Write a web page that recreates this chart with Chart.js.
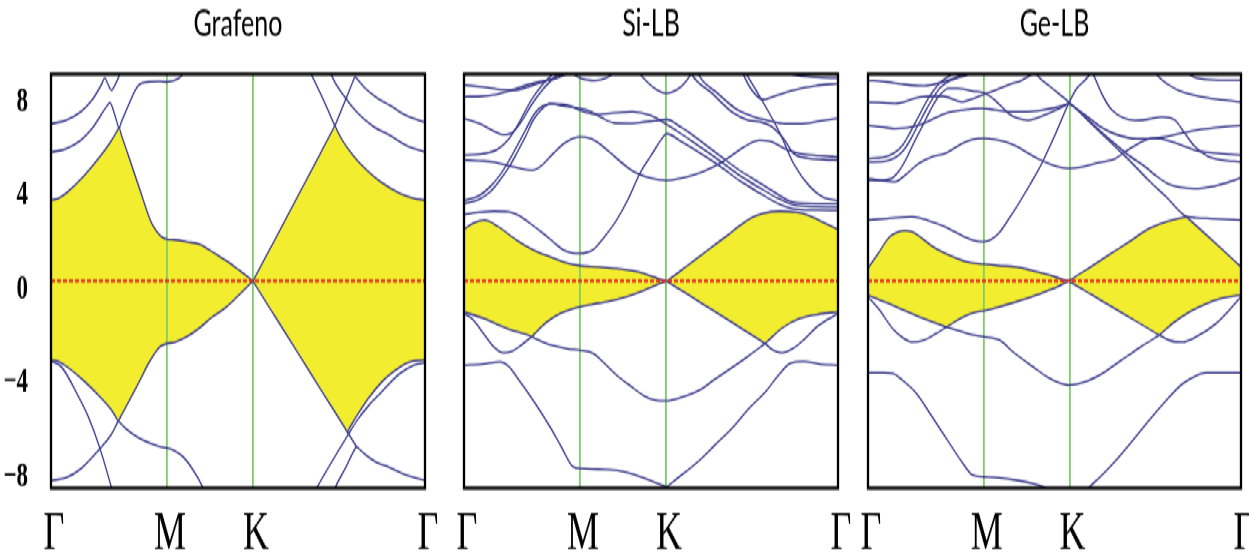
<!DOCTYPE html>
<html>
<head>
<meta charset="utf-8">
<script src="https://cdn.jsdelivr.net/npm/chart.js@4.4.1/dist/chart.umd.min.js"></script>
<style>
  html, body { margin: 0; padding: 0; background: #fff; overflow: hidden; }
  /* the original picture is stretched vertically, so draw flat and stretch */
  #stage { position: absolute; left: 0; top: 0; width: 1249px; height: 372px; transform: scaleY(1.5); transform-origin: 0 0; }
  canvas { position: absolute; top: 0; }
</style>
</head>
<body>
<div id="stage">
  <canvas id="c1" width="449" height="372" style="left:0px"></canvas>
  <canvas id="c2" width="419" height="372" style="left:443px"></canvas>
  <canvas id="c3" width="418" height="372" style="left:847px"></canvas>
</div>
<script>
  // k path: Γ (0) -> M (31) -> K (54) -> Γ (100)
  const kTicks = [0, 31, 54, 100];
  const kLabels = ['Γ', 'M', 'K', 'Γ'];
  const eTicks = [-8, -4, 0, 4, 8];
  const eLabels = ['−8', '−4', '0', '4', '8'];
  const fermiLevel = 0;
  const panelTitles = ['Grafeno', 'Si-LB', 'Ge-LB'];

  /**************Grafeno**************/
  const grafenoTop = [[0,3.13],[2,3.2],[4.2,3.42],[8.6,4.03],[13.1,4.81],[16,5.4],[17.6,5.78],[18.2,5.92],[18.8,5.66],[21,4.72],[23.8,3.52],[26.9,2.24],[28.3,1.92],[29.5,1.72],[31,1.62],[33,1.6],[36.3,1.52],[39.8,1.42],[44,1.05],[47,0.78],[50.5,0.4],[53.5,0.06],[54,0],[54.5,0.14],[60,1.64],[66,3.29],[72,4.93],[75.3,5.84],[75.9,6.0],[76.5,5.82],[78,5.42],[81,4.82],[84.4,4.29],[88,3.85],[93.3,3.39],[97,3.2],[100,3.13]];
  const grafenoBottom = [[0,-3.05],[2,-3.1],[4.2,-3.3],[8.6,-3.83],[13.1,-4.47],[16,-4.95],[17.4,-5.27],[18,-5.4],[18.6,-5.24],[21,-4.6],[23.8,-3.83],[26,-3.2],[28.3,-2.67],[29.5,-2.5],[31,-2.41],[33,-2.36],[36.3,-2.15],[39.8,-1.8],[43,-1.4],[47,-0.99],[50.5,-0.5],[53.5,-0.07],[54,0],[54.5,-0.12],[60,-1.39],[66,-2.77],[72,-4.16],[78.6,-5.68],[79.2,-5.82],[79.8,-5.68],[82,-5.15],[85,-4.5],[88.9,-3.83],[92,-3.45],[96,-3.12],[100,-3.05]];
  const grafenoBands = [
    [[0,6.08],[4,6.22],[8,6.55],[11,7.0],[13.5,7.6],[14.4,7.85],[15.2,7.62],[16.2,7.37],[17,7.55],[18,7.85],[19,8.3]],
    [[0,4.98],[4,5.12],[8,5.45],[11,5.9],[13.5,6.45],[15.2,6.82],[15.8,6.9],[16.4,6.72],[17.6,6.16],[18.2,5.92],[18.8,6.14],[21,6.9],[23.3,7.55],[26,7.7],[29,7.72],[31,7.7],[34,7.82],[36,8.1]],
    [[0,-7.7],[4,-7.6],[8,-7.25],[13.1,-6.47],[16,-5.95],[18,-5.4]],
    [[0,-3.08],[3,-3.35],[6.9,-4.34],[10,-5.25],[13.1,-6.47],[16.2,-8.0],[17,-8.45]],
    [[18,-5.4],[20,-5.7],[23,-6.02],[26.5,-6.27],[29,-6.4],[31,-6.45],[33,-6.55],[35.4,-6.8],[38,-7.3],[40.7,-8.0],[41.5,-8.3]],
    [[75.9,6.0],[78.6,6.95],[80.7,7.7],[81.3,7.9],[81.9,7.8],[84,7.45],[87,7.1],[90.6,6.8],[95,6.4],[100,6.14]],
    [[74.5,8.2],[75,7.95],[78.6,7.11],[82,6.5],[86,6.0],[90.6,5.63],[95,5.25],[100,4.98]],
    [[68.5,8.3],[69.7,7.95],[73,6.95],[75.9,6.0]],
    [[69.5,-8.4],[71,-8.0],[75,-7.0],[79.1,-6.02],[82,-5.35],[85,-4.8],[88,-4.34],[93.3,-3.57],[97,-3.25],[100,-3.15]],
    [[74.5,-8.5],[75.9,-8.0],[78.8,-7.2],[81.2,-6.5],[81.7,-6.4],[82.3,-6.47],[84,-6.7],[87,-7.0],[90.6,-7.2],[95,-7.5],[100,-7.7]],
    [[79.2,-5.82],[81.7,-6.4]]
  ];

  /**************Si-LB**************/
  const siTop = [[0,2.0],[2.5,2.25],[5.6,2.36],[9,2.12],[14.1,1.58],[18,1.25],[23,0.94],[27,0.72],[31,0.6],[36,0.55],[40.8,0.49],[45,0.4],[48,0.3],[51,0.15],[53.7,0.02],[54.2,0],[54.7,0.05],[60,0.63],[65,1.18],[70,1.72],[74,2.17],[77,2.46],[80,2.62],[84.5,2.7],[89,2.66],[92,2.55],[95,2.35],[100,2.0]];
  const siBottom = [[0,-1.19],[5.2,-1.44],[11.4,-1.83],[17.5,-2.11],[18.1,-2.15],[18.7,-2.06],[22,-1.6],[25.7,-1.25],[31,-0.99],[36,-0.85],[40.8,-0.71],[44.5,-0.55],[48,-0.36],[51,-0.17],[53.7,-0.02],[54.2,0],[54.7,-0.05],[60,-0.53],[66,-1.08],[72,-1.63],[78,-2.18],[79.9,-2.36],[80.5,-2.41],[81.1,-2.33],[85,-1.82],[89.8,-1.44],[95,-1.27],[100,-1.19]];
  const siBands = [
    [[0,-1.25],[2.5,-1.5],[5.2,-2.02],[8,-2.55],[10.5,-2.77],[13,-2.7],[15.5,-2.45],[18.1,-2.15]],
    [[18.1,-2.15],[21,-2.35],[24,-2.5],[28,-2.62],[31,-2.67],[34.6,-2.8],[37,-3.1],[40.8,-3.63],[44.5,-4.05],[48,-4.42],[51,-4.6],[54.2,-4.63],[58,-4.5],[63,-4.21],[67,-3.8],[72,-3.31],[76,-2.9],[80.5,-2.41]],
    [[80.5,-2.41],[82.5,-2.65],[85,-2.77],[88,-2.6],[91,-2.25],[94.3,-1.77],[97,-1.5],[100,-1.25]],
    [[0,-3.25],[5,-3.2],[9.6,-3.12],[12,-3.3],[14.1,-3.7],[18,-4.5],[23,-5.63],[26,-6.4],[29.2,-7.18],[31,-7.24],[36,-7.27],[40.8,-7.31],[45,-7.45],[49.7,-7.7],[53.6,-7.92],[54.2,-7.95],[54.8,-7.88],[57,-7.63],[63,-6.92],[67,-6.35],[72,-5.63],[76,-4.95],[81,-4.21],[84,-3.65],[87.2,-3.18],[90.7,-3.1],[95,-3.2],[100,-3.25]],
    [[0,2.58],[4,2.66],[8,2.7],[12,2.68],[14.5,2.55],[17.5,2.25],[21.2,1.84],[24,1.5],[26.6,1.2],[29,1.09],[31,1.07],[33,1.12],[34.6,1.22],[37.5,1.7],[40.8,2.36],[44,3.2],[47,4.16],[50,4.85],[53.3,5.58],[54.2,5.7],[58,5.4],[62,5.05],[68.4,4.45],[74,3.85],[79.1,3.4],[84,3.0],[88.1,2.8],[94,2.75],[100,2.74]],
    [[0,3.0],[4,3.15],[7,3.45],[9.6,3.9],[12,4.4],[14.1,4.94],[16.5,5.6],[18.5,6.22],[20.5,6.6],[23,6.87],[26,6.78],[31,6.68],[34,6.55],[37,6.3],[40,6.12],[44,6.1],[48,6.15],[51,6.2],[54.2,6.25],[58,5.95],[62,5.55],[68.4,4.85],[74,4.25],[79.1,3.8],[84,3.35],[88.1,3.05],[94,3.0],[100,3.0]],
    [[0,3.13],[4,3.3],[7,3.65],[9.6,4.1],[12,4.65],[14.1,5.2],[16.5,5.85],[18.5,6.4],[20.5,6.72],[24,6.85],[28,6.8],[31,6.6],[35,6.45],[40,6.5],[45,6.55],[50,6.4],[54.2,6.05],[58,5.7],[62,5.3],[68.4,4.65],[74,4.05],[79.1,3.6],[84,3.2],[88.1,2.95],[94,2.88],[100,2.87]],
    [[0,6.29],[4,6.1],[8,5.8],[10.5,5.66],[13,5.75],[15.5,6.2],[18,6.8],[21,7.4],[24,7.85],[26,8.15]],
    [[0,4.87],[5,4.92],[9,5.1],[12,5.5],[15,6.2],[18,7.0],[21,7.6],[24,8.05],[25,8.2]],
    [[0,4.68],[4,4.65],[7.8,4.61],[13.2,4.42],[18.5,4.29],[21,4.5],[23.9,4.94],[27,5.35],[31,5.58],[34,5.5],[37.3,5.19],[40,4.85],[43.5,4.42],[46,4.18],[48.8,4.03],[54.2,3.9],[61.3,4.1],[66.7,4.42],[71,4.8],[75,5.2],[79,5.45],[82,5.4],[86,5.1],[90,4.92],[95,4.85],[100,4.8]],
    [[0,7.58],[5,7.5],[10,7.4],[13.2,7.38],[17,7.5],[21,7.7],[25,7.9],[28,8.15]],
    [[0,7.13],[5,7.15],[8,7.2],[12,7.35],[16,7.55],[20,7.7],[25,7.85],[29,8.15]],
    [[28,8.15],[31,7.85],[35,7.75],[38,7.85],[41,8.15]],
    [[46,8.2],[48,7.85],[51,7.45],[54.2,7.26],[57,7.4],[59.5,7.75],[61.5,8.2]],
    [[60,8.3],[61.3,7.9],[66,7.3],[72,6.5],[76,6.22],[79.1,6.16],[82,6.0],[85.5,5.5],[88.1,4.94],[92,4.75],[96,4.7],[100,4.68]],
    [[62,8.3],[63.1,7.9],[67.5,7.3],[72.5,6.68],[77,6.38],[81,6.22],[85,6.1],[90,6.08],[95,6.18],[100,6.29]],
    [[75,8.2],[75.6,8.0],[79.1,7.13],[84.5,5.71],[88.1,4.55],[92.5,3.65],[96,3.25],[100,3.1]],
    [[74,8.2],[76,7.6],[78,7.2],[80,7.02],[84,7.2],[88,7.38],[94,7.55],[100,7.64]],
    [[83,8.2],[88,7.98],[94,7.88],[100,7.85]]
  ];

  /**************Ge-LB**************/
  const geTop = [[0,0.49],[2.5,1.02],[5.8,1.71],[8,1.9],[9.8,1.95],[12,1.9],[14.5,1.65],[17.4,1.33],[21,1.05],[26.3,0.75],[31,0.66],[35,0.6],[39.7,0.55],[43.5,0.43],[46.9,0.3],[50.5,0.15],[53.3,0.02],[53.8,0],[54.3,0.05],[60,0.58],[65,1.05],[70,1.52],[75.4,2.04],[80,2.3],[83,2.42],[85.4,2.47],[86,2.4],[90,1.88],[95,1.22],[100,0.55]];
  const geBottom = [[0,-0.54],[5,-0.83],[10,-1.15],[15,-1.45],[20.4,-1.74],[21,-1.77],[21.6,-1.72],[25,-1.42],[29,-1.19],[31,-1.15],[35,-1.0],[39.7,-0.8],[44,-0.6],[48,-0.38],[51,-0.2],[53.3,-0.03],[53.8,0],[54.3,-0.04],[60,-0.53],[66,-1.05],[72,-1.56],[77.5,-2.04],[78.1,-2.09],[78.7,-2.01],[82,-1.6],[86,-1.2],[90,-0.92],[93.3,-0.73],[97,-0.6],[100,-0.54]];
  const geBands = [
    [[0,-0.6],[3,-1.1],[6.7,-1.85],[9.5,-2.2],[12,-2.35],[15,-2.28],[18,-2.05],[21,-1.77]],
    [[21,-1.77],[25,-1.95],[28,-2.08],[31,-2.15],[35.3,-2.28],[39,-2.75],[44.2,-3.31],[48,-3.7],[51,-3.92],[53.8,-4.02],[58,-3.9],[63,-3.55],[68,-3.05],[73,-2.55],[78.1,-2.09]],
    [[78.1,-2.09],[81,-2.3],[84.4,-2.35],[88,-2.15],[93.3,-1.64],[97,-1.1],[100,-0.6]],
    [[0,-3.54],[4,-3.54],[6.7,-3.57],[9,-3.8],[13,-4.34],[17,-5.2],[21.9,-6.28],[25,-6.95],[28.1,-7.5],[31,-7.56],[35,-7.6],[39.7,-7.69],[44,-7.82],[46.9,-7.95],[50,-8.2],[54,-8.5],[57,-8.4],[59.4,-7.95],[62,-7.6],[66.5,-6.92],[71,-6.15],[75.4,-5.37],[80,-4.6],[84.4,-3.96],[88,-3.65],[90.6,-3.54],[95,-3.54],[100,-3.54]],
    [[0,2.36],[5,2.42],[11.8,2.49],[16,2.35],[20.7,2.1],[24,1.85],[27.9,1.59],[31,1.52],[33,1.6],[35,1.84],[37.5,2.35],[40.4,3.0],[43.5,3.75],[46.6,4.55],[50,5.6],[53.8,6.87],[56,7.45],[59,7.9],[60.5,8.3]],
    [[53.8,6.87],[55.5,6.7],[60,6.07],[66.3,5.19],[70,4.68],[75.2,3.9],[80,3.25],[85.4,2.5],[88,2.45],[92,2.42],[100,2.36]],
    [[0,3.97],[3,3.9],[7.3,3.84],[10,4.1],[13.6,4.55],[17,4.8],[20.7,4.94],[25.2,5.32],[28,5.48],[31,5.52],[34,5.48],[36.8,5.39],[40,5.2],[43,4.94],[46,4.7],[48.4,4.55],[51,4.42],[53.8,4.36],[57,4.4],[60.9,4.55],[66.3,4.74],[69,5.0],[72.5,5.32],[76,5.52],[78.5,5.5],[81.4,5.39],[85,5.2],[87.7,5.06],[93,4.95],[100,4.87]],
    [[0,3.9],[3,3.9],[6,3.95],[8.5,4.3],[10.5,4.8],[12.5,5.4],[14.5,5.97],[16.7,6.6],[18.9,7.13],[21.6,7.45],[24,7.45],[28,7.35],[31.4,7.26],[34,7.0],[37.7,6.48],[40,6.3],[43,6.22],[47,6.4],[50.5,6.62],[53.8,6.87]],
    [[0,4.61],[4,4.62],[7,4.75],[9.5,5.05],[11.5,5.5],[13.5,6.05],[15.5,6.6],[17.5,7.1],[19.5,7.5],[22,7.75],[25,7.9],[28,8.05],[30,8.2]],
    [[0,4.74],[4,4.78],[7,4.95],[9.5,5.3],[11.5,5.8],[13.5,6.35],[15.5,6.9],[17.5,7.35],[19.5,7.7],[22,7.95],[24,8.2]],
    [[0,6.03],[4,5.95],[7.3,5.9],[13.6,6.03],[20.7,6.48],[25.2,6.61],[30.5,6.68],[34,6.62],[37.7,6.55],[42,6.55],[46.6,6.61],[50,6.7],[53.8,6.87]],
    [[0,6.93],[7.3,6.87],[14.5,7.13],[20,7.15],[25.2,6.93],[29,7.1],[34.1,7.38],[38,7.6],[41.3,7.77],[45,8.1]],
    [[0,7.77],[5,7.7],[10,7.6],[15,7.55],[20,7.7],[24,7.9],[27,8.15]],
    [[44,8.3],[45.7,7.9],[49,7.5],[53.8,6.93],[57,6.5],[60,6.1],[65.4,5.4],[70,4.85],[74.3,4.42],[77,4.1],[80,3.8],[84,3.62],[87.7,3.58],[92,3.65],[96,3.8],[100,4.0]],
    [[59.5,8.3],[61,7.8],[63,7.15],[65.4,6.61],[71.6,6.22],[75,6.25],[78.8,6.35],[82.3,6.22],[85,5.7],[87.7,5.19],[91.3,4.81],[95,4.68],[100,4.61]],
    [[76.5,8.2],[77.9,7.9],[80.5,7.6],[83.2,7.38],[87,7.2],[92.1,7.06],[100,6.93]],
    [[84,8.2],[88,7.85],[94,7.77],[100,7.77]],
    [[54,6.87],[58,6.45],[62,6.0],[66,5.7],[72,5.5],[78,5.55],[84,5.72],[90,5.88],[100,6.03]]
  ];

  const bandColor = '#3c3c8c';
  const gapColor = '#f3ed2f';
  const symLineColor = '#7ccf66';

  /**************Frame around each panel**************/
  const framePlugin = {
    id: 'frame',
    afterDraw(chart) {
      const a = chart.chartArea;
      const ctx = chart.ctx;
      ctx.save();
      ctx.strokeStyle = '#000';
      ctx.lineWidth = 2.3;
      ctx.strokeRect(a.left, a.top, a.right - a.left, a.bottom - a.top);
      ctx.restore();
    }
  };

  function bandSet(points) {
    return {
      data: points,
      borderColor: bandColor,
      borderWidth: 1.3,
      pointRadius: 0,
      fill: false,
      cubicInterpolationMode: 'monotone'
    };
  }

  function makePanel(id, title, top, bottom, bands, withAxis, padLeft, padRight) {
    let datasets = [{
      data: [[0, fermiLevel], [100, fermiLevel]],
      borderColor: '#e3261e',
      borderWidth: 2,
      borderDash: [4, 2],
      pointRadius: 0,
      fill: false
    }];
    for (let i = 0; i < bands.length; i++) {
      datasets.push(bandSet(bands[i]));
    }
    datasets.push(Object.assign(bandSet(top), { fill: 'origin', backgroundColor: gapColor }));
    datasets.push(Object.assign(bandSet(bottom), { fill: 'origin', backgroundColor: gapColor }));

    let scales = {
      x: {
        type: 'linear',
        min: 0,
        max: 100,
        afterBuildTicks: (s) => { s.ticks = kTicks.map(v => ({ value: v })); },
        afterFit: (s) => { s.height = 46.67; },
        ticks: {
          autoSkip: false,
          maxRotation: 0,
          padding: 9.8,
          labelOffset: 3,
          color: '#000',
          font: { family: 'Liberation Serif', size: 36 },
          callback: (v, i) => kLabels[i]
        },
        grid: {
          drawTicks: false,
          lineWidth: 1.8,
          color: (ctx) => (ctx.tick && (ctx.tick.value === kTicks[1] || ctx.tick.value === kTicks[2])) ? symLineColor : 'rgba(0,0,0,0)'
        },
        border: { display: false }
      },
      y: { display: false, min: -8, max: 8 }
    };
    if (withAxis) {
      // label axis: the printed numbers sit a little inside the real tick marks
      scales.yl = {
        position: 'left',
        min: -8.47,
        max: 9.19,
        afterBuildTicks: (s) => { s.ticks = eTicks.map(v => ({ value: v })); },
        afterFit: (s) => { s.width = 51; },
        ticks: {
          padding: 15,
          color: '#000',
          font: { family: 'Liberation Serif', size: 23, weight: 'bold' },
          callback: (v, i) => eLabels[i]
        },
        grid: { display: false },
        border: { display: false }
      };
    }

    new Chart(document.getElementById(id), {
      type: 'line',
      data: { datasets: datasets },
      options: {
        responsive: false,
        animation: false,
        devicePixelRatio: 1,
        layout: { padding: { left: padLeft, right: padRight, top: 0, bottom: 0 } },
        plugins: {
          legend: { display: false },
          tooltip: { enabled: false },
          filler: { drawTime: 'beforeDraw' },
          title: {
            display: true,
            text: title,
            fullSize: false,
            color: '#000',
            font: { family: 'Lato', size: 25, weight: 'normal' },
            padding: { top: 0.7, bottom: 18.63 }
          }
        },
        scales: scales
      },
      plugins: [framePlugin]
    });
  }

  makePanel('c1', panelTitles[0], grafenoTop, grafenoBottom, grafenoBands, true, 0, 24);
  makePanel('c2', panelTitles[1], siTop, siBottom, siBands, false, 21, 24);
  makePanel('c3', panelTitles[2], geTop, geBottom, geBands, false, 21, 24);
</script>
</body>
</html>
